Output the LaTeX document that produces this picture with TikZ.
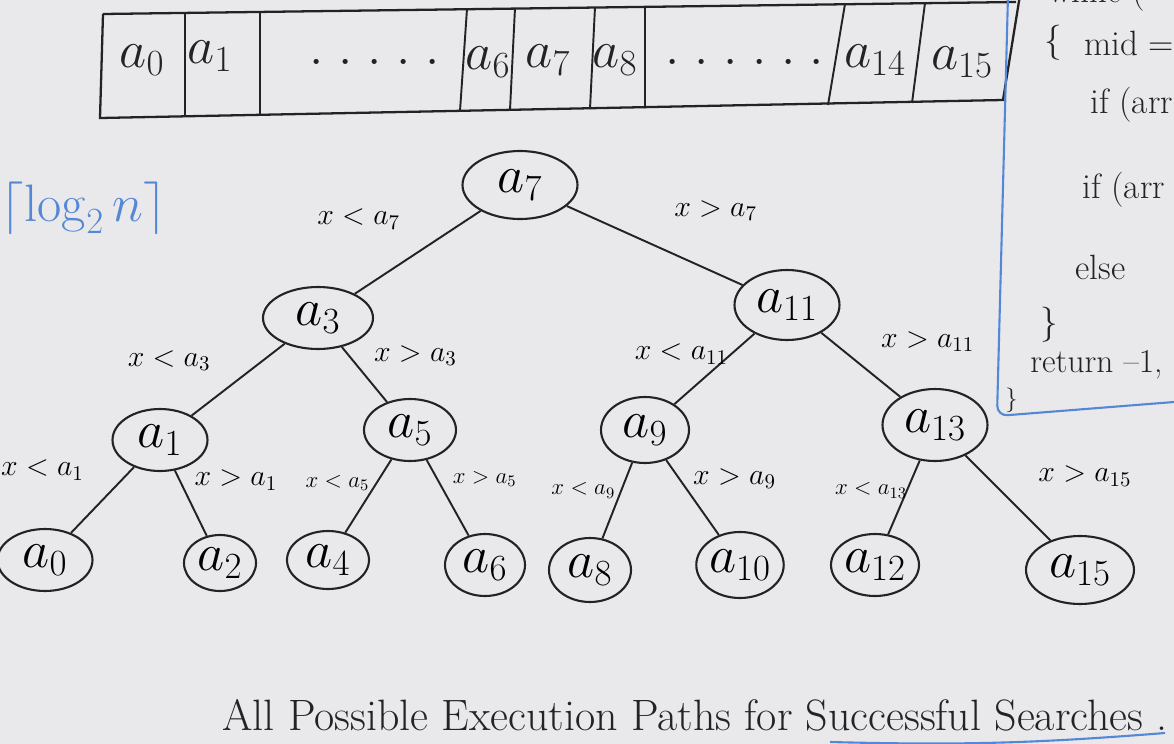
\RequirePackage{fix-cm}
\documentclass[tikz,border=0pt]{standalone}
\usepackage{xcolor}
\usepackage{amsmath}
\usetikzlibrary{shapes.geometric,positioning}

\definecolor{board}{RGB}{233,233,235}
\definecolor{ink}{RGB}{35,35,38}
\definecolor{bluepen}{RGB}{85,135,215}

\begin{document}
\begin{tikzpicture}[x=0.02cm,y=-0.02cm]
    \tikzstyle{key}=[ellipse, draw=ink, line width=1.2pt, inner sep=0pt, font=\fontsize{30}{32}\selectfont]
    \tikzstyle{link}=[draw=ink, line width=1.1pt]
    \tikzstyle{cond}=[font=\fontsize{17}{19}\selectfont, inner sep=1pt]
    \tikzstyle{condsm}=[font=\fontsize{13}{15}\selectfont, inner sep=1pt]
    \tikzstyle{cell}=[font=\fontsize{30}{32}\selectfont, inner sep=0pt, text=ink]
    \tikzstyle{code}=[font=\fontsize{20}{22}\selectfont, anchor=west, inner sep=0pt, text=ink]
    \fill[board] (0,0) rectangle (1174,744);
    \useasboundingbox (0,0) rectangle (1174,744);
    \clip (0,0) rectangle (1174,744);
    % array of keys
    \draw[ink, line width=1.3pt] (103,14) -- (1016,2);
    \draw[ink, line width=1.3pt] (103,14) -- (100,118) -- (1003,100) -- (1020,-5);
    \draw[ink, line width=1.1pt] (185,13) -- (185,116) (260,12) -- (260,115)
        (467,9) -- (460,111) (515,8) -- (510,110) (595,7) -- (590,109)
        (645,7) -- (645,108) (845,4) -- (828,105) (925,3) -- (912,103);
    \node[cell] (c0) at (142,60) {$a_0$};
    \node[cell] (c1) at (210,56) {$a_1$};
    \node[cell] (c2) at (375,62) {$.\;.\;.\;.\;.$};
    \node[cell] (c6) at (488,62) {$a_6$};
    \node[cell] (c7) at (548,60) {$a_7$};
    \node[cell] (c8) at (615,60) {$a_8$};
    \node[cell] (c9) at (745,62) {$.\;.\;.\;.\;.\;.$};
    \node[cell] (c14) at (875,60) {$a_{14}$};
    \node[cell] (c15) at (962,62) {$a_{15}$};
    % code on the right
    \draw[bluepen, line width=1.2pt, rounded corners=6pt] (1008,-5) -- (997,416) -- (1174,402);
    \node[code] (while) at (1048,-6) {while (};
    \node[code] (open) at (1044,43) {$\{$};
    \node[code] (mid) at (1084,43) {mid =};
    \node[code] (if1) at (1090,105) {if (arr};
    \node[code] (if2) at (1082,190) {if (arr};
    \node[code] (else) at (1075,267) {else};
    \node[code] (close) at (1040,325) {$\}$};
    \node[code, font=\fontsize{19}{21}\selectfont] (ret) at (1030,365) {return --1,};
    \node[code, font=\fontsize{14}{16}\selectfont] (end) at (1005,400) {$\}$};
    \node[text=bluepen, font=\fontsize{30}{32}\selectfont] (depth) at (84,208) {$\lceil \log_2 n \rceil$};
    % decision tree
    \node[key, minimum width=2.3cm, minimum height=1.36cm] (a7) at (520,185) {$a_7$};
    \node[key, minimum width=2.2cm, minimum height=1.24cm] (a3) at (318,318) {$a_3$};
    \node[key, minimum width=2.1cm, minimum height=1.4cm] (a11) at (787,305) {$a_{11}$};
    \node[key, minimum width=1.9cm, minimum height=1.24cm] (a1) at (160,440) {$a_1$};
    \node[key, minimum width=1.84cm, minimum height=1.24cm] (a5) at (410,430) {$a_5$};
    \node[key, minimum width=1.76cm, minimum height=1.32cm] (a9) at (645,430) {$a_9$};
    \node[key, minimum width=2.1cm, minimum height=1.44cm] (a13) at (935,425) {$a_{13}$};
    \node[key, minimum width=1.9cm, minimum height=1.24cm] (a0) at (45,560) {$a_0$};
    \node[key, minimum width=1.44cm, minimum height=1.12cm] (a2) at (220,563) {$a_2$};
    \node[key, minimum width=1.64cm, minimum height=1.16cm] (a4) at (328,560) {$a_4$};
    \node[key, minimum width=1.6cm, minimum height=1.24cm] (a6) at (485,565) {$a_6$};
    \node[key, minimum width=1.64cm, minimum height=1.28cm] (a8) at (590,570) {$a_8$};
    \node[key, minimum width=1.72cm, minimum height=1.32cm] (a10) at (740,565) {$a_{10}$};
    \node[key, minimum width=1.76cm, minimum height=1.24cm] (a12) at (875,565) {$a_{12}$};
    \node[key, minimum width=2.16cm, minimum height=1.36cm] (a15) at (1080,570) {$a_{15}$};
    \path (a7) edge [link] node[cond, shift={(-59,-33)}] {$x<a_7$} (a3)
    (a7) edge [link] node[cond, shift={(61,-35)}] {$x>a_7$} (a11)
    (a3) edge [link] node[cond, shift={(-69,-19)}] {$x<a_3$} (a1)
    (a3) edge [link] node[cond, shift={(51,-19)}] {$x>a_3$} (a5)
    (a11) edge [link] node[cond, shift={(-33,-15)}] {$x<a_{11}$} (a9)
    (a11) edge [link] node[cond, shift={(67,-23)}] {$x>a_{11}$} (a13)
    (a1) edge [link] node[cond, shift={(-60,-30)}] {$x<a_1$} (a0)
    (a1) edge [link] node[cond, shift={(45,-23)}] {$x>a_1$} (a2)
    (a5) edge [link] node[condsm, shift={(-31,-13)}] {$x<a_5$} (a4)
    (a5) edge [link] node[condsm, shift={(37,-19)}] {$x>a_5$} (a6)
    (a9) edge [link] node[condsm, shift={(-34,-10)}] {$x<a_9$} (a8)
    (a9) edge [link] node[cond, shift={(42,-19)}] {$x>a_9$} (a10)
    (a13) edge [link] node[condsm, shift={(-33,-7)}] {$x<a_{13}$} (a12)
    (a13) edge [link] node[cond, shift={(77,-22)}] {$x>a_{15}$} (a15);
    % caption
    \node[font=\fontsize{25}{28}\selectfont, text=ink] (caption) at (695,715) {All Possible Execution Paths for Successful Searches .};
    \draw[bluepen, line width=1.2pt] (830,742) to[bend right=3] (1165,733);
\end{tikzpicture}
\end{document}
